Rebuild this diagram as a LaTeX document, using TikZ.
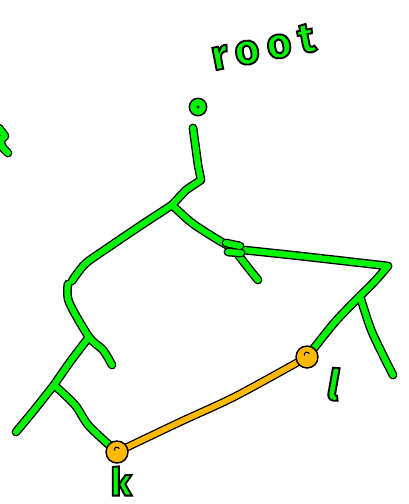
\documentclass[tikz,border=0pt]{standalone}
\usepackage{fontspec}
\usepackage{xcolor}
\usepackage{tikz}
\usetikzlibrary{positioning, backgrounds}
\newfontfamily\handfont{Fira Sans}
\definecolor{strokegreen}{RGB}{0,245,0}
\definecolor{markorange}{RGB}{255,186,0}
\newcommand\outlined[1]{\textcolor{strokegreen}{\special{pdf:code 2 Tr 1.4 w 0 G}#1\special{pdf:code 0 Tr}}}

\begin{document}
\begin{tikzpicture}[
  x=0.75pt, y=-0.75pt,
  branch/.style={line cap=round, line join=round, draw=black, line width=6.6pt,
                 postaction={draw=strokegreen, line width=4.6pt}},
  link/.style={line cap=round, line join=round, draw=black, line width=6.2pt,
               postaction={draw=markorange, line width=4.2pt}},
  dotnode/.style={circle, draw=black, line width=1.1pt, fill=strokegreen,
                  minimum size=13pt, inner sep=0pt},
  leafnode/.style={circle, draw=black, line width=1.1pt, fill=markorange,
                   minimum size=16.5pt, inner sep=0pt},
  hand/.style={inner sep=0pt, font=\handfont\bfseries\fontsize{32}{32}\selectfont},
]
  \useasboundingbox (0,0) rectangle (409,504);

  \node[dotnode, path picture={\fill[black] (path picture bounding box.center) circle (1.3pt);}] (rt) at (198,107) {};
  \node[leafnode, path picture={\draw[black, line width=0.8pt] (path picture bounding box.center) ++(-2pt,1pt) arc (200:20:2pt);}] (k) at (117,452) {};
  \node[leafnode, path picture={\draw[black, line width=0.8pt] (path picture bounding box.center) ++(-2pt,1pt) arc (200:20:2pt);}] (l) at (307,357) {};

  \coordinate (stem) at (193,128);
  \coordinate (j1) at (172,205);
  \coordinate (j2) at (234,249);
  \coordinate (lt) at (68,284);
  \coordinate (j3) at (89,337);
  \coordinate (j4) at (54,385);
  \coordinate (rc) at (388,266);
  \coordinate (j5) at (360,296);

  \node[hand, rotate=11] (rootlbl) at (263,47) {\outlined{\addfontfeature{LetterSpace=18}root}};
  \node[hand, font=\handfont\bfseries\fontsize{29}{29}\selectfont] (klbl) at (121,481) {\outlined{k}};
  \node[hand, rotate=-10] (llbl) at (334,384) {\outlined{l}};

  \begin{scope}[on background layer]
    \draw[branch] (stem) -- (198,165) -- (201,180) -- (186,190) -- (j1)
      plot[smooth] coordinates {(j1) (140,226) (106,249) (85,264) (72,281)}
      plot[smooth] coordinates {(j1) (192,223) (215,238) (j2)}
      plot[smooth] coordinates {(j2) (246,265) (258,280)}
      plot[smooth] coordinates {(j2) (300,256) (rc)}
      plot[smooth] coordinates {(rc) (375,281) (j5)}
      plot[smooth] coordinates {(j5) (372,332) (393,375)}
      plot[smooth] coordinates {(j5) (335,322) (l)}
      plot[smooth] coordinates {(lt) (69,302) (j3) (103,350) (112,365)}
      plot[smooth] coordinates {(j3) (70,362) (j4)}
      plot[smooth] coordinates {(j4) (35,409) (16,432)}
      plot[smooth] coordinates {(j4) (75,405) (89,426) (k)};
    \draw[branch] (226,243) -- (240,246) (228,252) -- (241,253);
    \draw[branch] (-1,128) -- (5,136) -- (0,141) -- (3,148) -- (8,153);
    \draw[link] plot[smooth] coordinates {(k) (180,422) (236,396) (l)};
  \end{scope}
\end{tikzpicture}
\end{document}
